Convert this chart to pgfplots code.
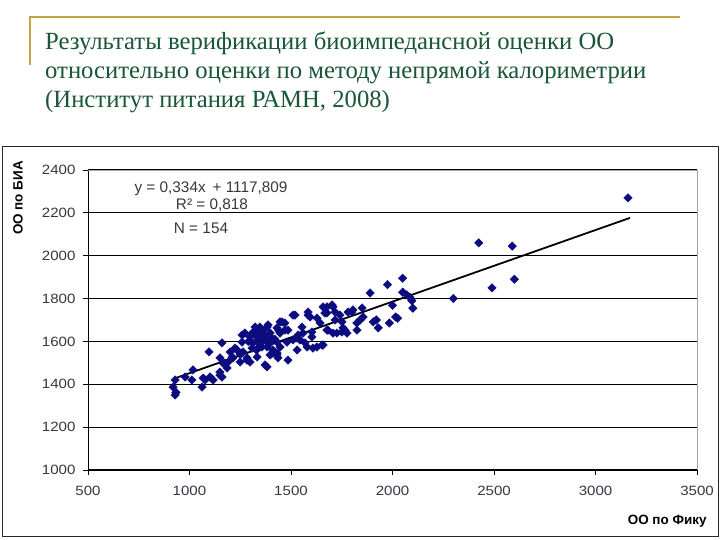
\documentclass[border=0pt]{standalone}
\usepackage{fontspec}
\setmainfont{Liberation Serif}
\newfontfamily\arial{Liberation Sans}
\newfontfamily\arialw[FakeStretch=1.12]{Liberation Sans}
\usepackage{pgfplots}
\usepackage{pgfplotstable}
\pgfplotsset{compat=1.18}
\definecolor{titlegreen}{RGB}{25,85,55}
\definecolor{gold}{RGB}{196,164,72}
\definecolor{navy}{RGB}{12,12,128}
\definecolor{tickgray}{RGB}{55,55,65}
\pgfplotstableread{
x y
3160 2270
2425 2060
2590 2045
2600 1890
2490 1850
2300 1800
2050 1895
1975 1865
2050 1830
2070 1817
2085 1807
2095 1790
2100 1755
2000 1768
2015 1714
2025 1708
1985 1686
1920 1700
1905 1691
1930 1663
1890 1826
1855 1714
1840 1700
1825 1686
1825 1653
1776 1639
1756 1663
1800 1737
1850 1756
1805 1747
1781 1737
1766 1653
1751 1644
1741 1723
1726 1639
1717 1737
1702 1770
1707 1761
1677 1761
1682 1653
1677 1733
1667 1733
1658 1761
1653 1583
1643 1686
1628 1709
1717 1700
1751 1691
1707 1639
1677 1653
1608 1569
1603 1644
1594 1714
1584 1737
1584 1723
1569 1593
1554 1667
1535 1630
1530 1560
1510 1607
1510 1723
1520 1723
1485 1513
1470 1653
1456 1691
1446 1574
1436 1523
1411 1546
1372 1490
1382 1667
1628 1574
1579 1574
1658 1583
1603 1621
1559 1639
1544 1607
1525 1616
1470 1686
1446 1691
1485 1653
1431 1663
1446 1639
1397 1639
1431 1597
1480 1597
1397 1593
1347 1667
1333 1653
1323 1630
1298 1621
1347 1616
1362 1607
1313 1593
1347 1583
1382 1574
1411 1560
1397 1537
1431 1537
1333 1527
1382 1481
1283 1513
1264 1551
1259 1597
1224 1569
1200 1551
1210 1527
1160 1593
1150 1523
1175 1499
1185 1476
1150 1457
1160 1434
1096 1551
1101 1434
1116 1420
1067 1429
1062 1387
1017 1467
1012 1420
978 1434
929 1420
919 1387
929 1350
933 1362
1077 1420
1150 1443
1165 1499
1190 1504
1214 1523
1234 1560
1249 1504
1259 1630
1273 1639
1283 1523
1298 1504
1308 1569
1323 1667
1338 1607
1347 1639
1357 1574
1387 1677
1431 1546
1360 1650
1370 1630
1310 1640
1400 1620
1420 1610
1440 1650
1380 1600
1290 1600
1330 1560
1250 1540
}\scatterdata
\begin{document}
\begin{tikzpicture}[x=1bp,y=1bp]
\path[use as bounding box] (0,0) rectangle (720,540);
\fill[white] (0,0) rectangle (720,540);
\draw[gold, line width=2bp] (30,475) -- (30,523) -- (680,523);
\node[anchor=base west, text=titlegreen, font=\fontsize{24.8}{29}\selectfont, inner sep=0pt] at (45,490) {Результаты верификации биоимпедансной оценки ОО};
\node[anchor=base west, text=titlegreen, font=\fontsize{24.8}{29}\selectfont, inner sep=0pt] at (45,461) {относительно оценки по методу непрямой калориметрии};
\node[anchor=base west, text=titlegreen, font=\fontsize{24.8}{29}\selectfont, inner sep=0pt] at (45,432) {(Институт питания РАМН, 2008)};
\draw[black!85, line width=1bp] (2,3) rectangle (718,393);
\begin{axis}[
  at={(88bp,70bp)}, anchor=south west,
  width=609bp, height=300bp, scale only axis,
  xmin=500, xmax=3500, ymin=1000, ymax=2400,
  xtick={500,1000,...,3500}, ytick={1000,1200,...,2400},
  axis x line*=bottom, axis y line*=left,
  xtick pos=bottom, ytick pos=left,
  tick align=outside, major tick length=5bp,
  axis line style={black, line width=0.9bp},
  tick style={black, line width=0.9bp},
  ymajorgrids, grid style={black, line width=1bp},
  ticklabel style={font=\arialw\fontsize{13.5}{13.5}\selectfont, text=tickgray},
  xticklabel style={yshift=-8bp},
  yticklabel style={xshift=-4bp},
  /pgf/number format/assume math mode=true,
  /pgf/number format/1000 sep={},
  clip=false,
]
\draw[gray!70, line width=0.8bp] (rel axis cs:0,1) -- (rel axis cs:1,1) -- (rel axis cs:1,0);
\addplot[only marks, mark=square*, mark size=3bp, mark options={rotate=45, fill=navy, draw=navy}] table[x=x,y=y] {\scatterdata};
\addplot[black, line width=1.8bp, no marks] coordinates {(920,1425.1) (3170,2176.6)};
\end{axis}
\node[inner sep=0pt, font=\arial\fontsize{15.4}{15.4}\selectfont, text=tickgray] at (211,351) {y = 0,334x\, + 1117,809};
\node[inner sep=0pt, font=\arial\fontsize{15.4}{15.4}\selectfont, text=tickgray] at (212,335) {R² = 0,818};
\node[inner sep=0pt, font=\arial\fontsize{15.4}{15.4}\selectfont, text=tickgray] at (201,312) {N = 154};
\node[font=\arial\bfseries\fontsize{13.5}{13.5}\selectfont, anchor=east] at (710,19) {ОО по Фику};
\node[font=\arial\bfseries\fontsize{13.5}{13.5}\selectfont, rotate=90] at (18,342) {ОО по БИА};
\end{tikzpicture}
\end{document}
